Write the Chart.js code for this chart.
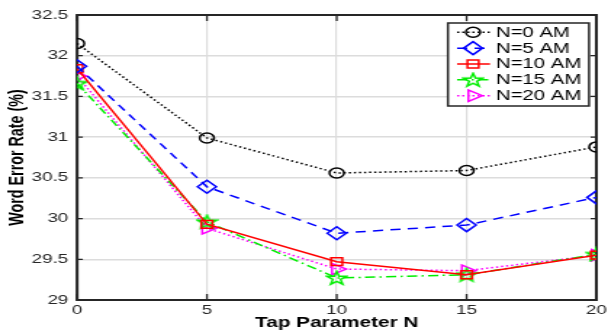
<!DOCTYPE html>
<html>
<head>
<meta charset="utf-8">
<script src="https://cdn.jsdelivr.net/npm/chart.js@4/dist/chart.umd.min.js"></script>
<style>
html, body { margin: 0; padding: 0; background: #fff; overflow: hidden; }
/* the original figure is stretched sideways, so draw narrow and stretch */
#wrap { width: 419px; height: 334px; transform: scaleX(1.4511); transform-origin: 0 0; }
</style>
</head>
<body>
<div id="wrap"><canvas id="wer"></canvas></div>
<script>
var taps = [0, 5, 10, 15, 20];
var yTicks = [29, 29.5, 30, 30.5, 31, 31.5, 32, 32.5];
var names = ["N=0 AM", "N=5 AM", "N=10 AM", "N=15 AM", "N=20 AM"];
var am0 = [32.15, 30.99, 30.56, 30.59, 30.88];
var am5 = [31.87, 30.39, 29.82, 29.92, 30.26];
var am10 = [31.84, 29.93, 29.47, 29.31, 29.55];
var am15 = [31.66, 29.96, 29.27, 29.31, 29.56];
var am20 = [31.75, 29.88, 29.38, 29.36, 29.55];

var font = "'Liberation Sans', Arial, Helvetica, sans-serif";
var axisColor = '#262626';

// five point star marker
function makeStar(color) {
    var c = document.createElement('canvas');
    c.width = 16; c.height = 16;
    var g = c.getContext('2d');
    g.strokeStyle = color;
    g.lineWidth = 1.5;
    g.beginPath();
    for (var i = 0; i < 10; i++) {
        var r = i % 2 == 0 ? 7 : 2.8;
        var a = -Math.PI / 2 + i * Math.PI / 5;
        var px = 8 + r * Math.cos(a), py = 8.5 + r * Math.sin(a);
        if (i == 0) g.moveTo(px, py); else g.lineTo(px, py);
    }
    g.closePath();
    g.stroke();
    return c;
}

function pts(vals) {
    return taps.map(function (t, i) { return {x: t, y: vals[i]}; });
}

function series(label, vals, color, dash, style, radius, rot) {
    return {
        label: label,
        data: pts(vals),
        borderColor: color,
        backgroundColor: 'rgba(0,0,0,0)',
        borderWidth: 1.5,
        borderDash: dash,
        pointStyle: style,
        pointRadius: radius,
        pointRotation: rot || 0,
        pointBorderWidth: 1.5,
        pointBorderColor: color,
        pointBackgroundColor: 'rgba(0,0,0,0)',
        tension: 0
    };
}

var frame = {
    id: 'frame',
    beforeDatasetsDraw: function (chart) {
        var a = chart.chartArea, ctx = chart.ctx;
        var xs = chart.scales.x, ys = chart.scales.y;
        ctx.save();
        ctx.strokeStyle = axisColor;
        ctx.lineWidth = 1.3;
        ctx.beginPath();
        taps.forEach(function (t) {
            var px = xs.getPixelForValue(t);
            ctx.moveTo(px, a.bottom); ctx.lineTo(px, a.bottom - 6);
            ctx.moveTo(px, a.top); ctx.lineTo(px, a.top + 6);
        });
        yTicks.forEach(function (v) {
            var py = ys.getPixelForValue(v);
            ctx.moveTo(a.left, py); ctx.lineTo(a.left + 4, py);
            ctx.moveTo(a.right, py); ctx.lineTo(a.right - 4, py);
        });
        ctx.stroke();
        ctx.lineWidth = 2;
        ctx.strokeRect(a.left, a.top, a.right - a.left, a.bottom - a.top);
        ctx.restore();
    }
};

var legendBox = {
    id: 'legendBox',
    afterDraw: function (chart) {
        var ctx = chart.ctx;
        var bx = 308.7, by = 23, bw = 97.2, bh = 83;
        ctx.save();
        ctx.fillStyle = '#fff';
        ctx.fillRect(bx, by, bw, bh);
        ctx.strokeStyle = axisColor;
        ctx.lineWidth = 1.5;
        ctx.strokeRect(bx, by, bw, bh);
        chart.data.datasets.forEach(function (ds, i) {
            var yy = 32.3 + i * 15.85;
            ctx.strokeStyle = ds.borderColor;
            ctx.lineWidth = ds.borderWidth;
            ctx.setLineDash(ds.borderDash);
            ctx.beginPath();
            ctx.moveTo(315, yy); ctx.lineTo(337.7, yy);
            ctx.stroke();
            ctx.setLineDash([]);
            ctx.lineWidth = ds.pointBorderWidth;
            ctx.fillStyle = 'rgba(0,0,0,0)';
            Chart.helpers.drawPoint(ctx, {
                pointStyle: ds.pointStyle,
                rotation: ds.pointRotation,
                radius: ds.pointRadius,
                borderWidth: ds.pointBorderWidth
            }, 326, yy);
            ctx.fillStyle = '#000';
            ctx.font = '14px ' + font;
            ctx.textBaseline = 'middle';
            ctx.fillText(names[i], 341.8, yy + 0.5);
        });
        ctx.restore();
    }
};

new Chart(document.getElementById('wer'), {
    type: 'line',
    data: {
        datasets: [
            series(names[0], am0, '#000000', [1.5, 2], 'circle', 5),
            series(names[1], am5, '#0000ff', [7, 5], 'rectRot', 6.5),
            series(names[2], am10, '#ff0000', [], 'rect', 5.5),
            series(names[3], am15, '#00ee00', [7, 3, 1.5, 3], makeStar('#00ee00'), 6),
            series(names[4], am20, '#ff00ff', [1.5, 2], 'triangle', 6.5, 90)
        ]
    },
    options: {
        responsive: true,
        maintainAspectRatio: false,
        animation: false,
        layout: { padding: { top: 15, right: 4.8, left: 0, bottom: 0 } },
        plugins: { legend: { display: false }, tooltip: { enabled: false } },
        scales: {
            x: {
                type: 'linear',
                min: 0, max: 20,
                afterBuildTicks: function (s) { s.ticks = taps.map(function (v) { return {value: v}; }); },
                afterFit: function (s) { s.height = 34; s.paddingLeft = 0; s.paddingRight = 0; },
                grid: { color: '#dcdcdc', lineWidth: 1.2, drawTicks: false },
                border: { display: false },
                ticks: {
                    padding: 3, color: axisColor, font: { family: font, size: 13 }, maxRotation: 0,
                    callback: function (v) { return String(v); }
                },
                title: {
                    display: true, text: 'Tap Parameter N', color: '#000',
                    font: { family: font, size: 14.3, weight: 'bold' },
                    padding: { top: 0, bottom: 1.9 }
                }
            },
            y: {
                min: 29, max: 32.5,
                afterBuildTicks: function (s) { s.ticks = yTicks.map(function (v) { return {value: v}; }); },
                afterFit: function (s) { s.width = 53.1; s.paddingTop = 0; s.paddingBottom = 0; },
                grid: { color: '#dcdcdc', lineWidth: 1.5, drawTicks: false },
                border: { display: false },
                ticks: {
                    padding: 6, color: axisColor, font: { family: font, size: 13 },
                    callback: function (v) { return String(v); }
                },
                title: {
                    display: true, text: 'Word Error Rate (%)', color: '#000',
                    font: { family: font, size: 14.3, weight: 'bold' },
                    padding: { top: 3.1, bottom: 0 }
                }
            }
        }
    },
    plugins: [frame, legendBox]
});
</script>
</body>
</html>
